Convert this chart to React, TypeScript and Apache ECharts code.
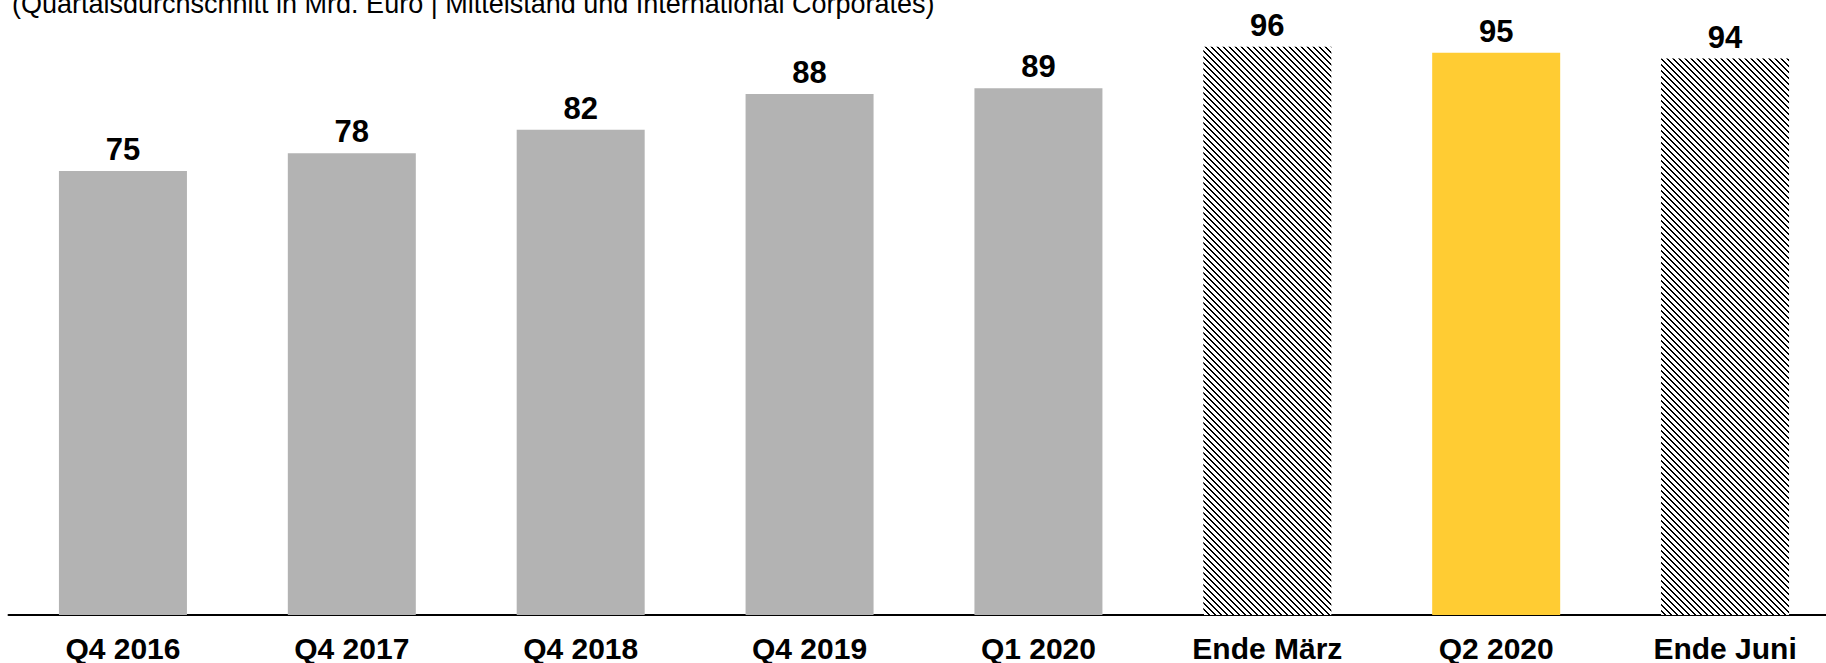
import React, { useEffect, useRef } from "react";
import * as echarts from "echarts";

const categories = ["Q4 2016", "Q4 2017", "Q4 2018", "Q4 2019", "Q1 2020", "Ende März", "Q2 2020", "Ende Juni"];
const values = [75, 78, 82, 88, 89, 96, 95, 94];
// fill kind per bar: g = grey, h = hatched, y = yellow
const kinds = ["g", "g", "g", "g", "g", "h", "y", "h"];
const subtitle = "(Quartalsdurchschnitt in Mrd. Euro | Mittelstand und International Corporates)";

function makeHatch(): HTMLCanvasElement {
  const c = document.createElement("canvas");
  const n = 6;
  c.width = n;
  c.height = n;
  const ctx = c.getContext("2d")!;
  ctx.fillStyle = "#ffffff";
  ctx.fillRect(0, 0, n, n);
  ctx.fillStyle = "#000000";
  for (let y = 0; y < n; y++) {
    ctx.fillRect(y % n, y, 1, 1);
    ctx.fillRect((y + 1) % n, y, 1, 1);
  }
  return c;
}

export default function App() {
  const ref = useRef<HTMLDivElement>(null);
  useEffect(() => {
    if (!ref.current) return;
    const chart = echarts.init(ref.current, undefined, { renderer: "svg" });
    const hatch = makeHatch();
    const font = '"Liberation Sans", Arial, sans-serif';
    const data = values.map((v, i) => ({
      value: v,
      itemStyle: {
        color:
          kinds[i] === "g"
            ? "#b3b3b3"
            : kinds[i] === "y"
            ? "#ffcc33"
            : ({ image: hatch, repeat: "repeat" } as any),
      },
    }));
    chart.setOption({
      animation: false,
      backgroundColor: "#ffffff",
      grid: {
        left: 8.5,
        width: 1831,
        top: 0,
        bottom: 48,
        containLabel: false,
        outerBoundsMode: "none",
      },
      xAxis: {
        type: "category",
        data: categories,
        axisLine: { show: true, lineStyle: { color: "#000000", width: 2 } },
        axisTick: { show: false },
        axisLabel: {
          color: "#000000",
          fontSize: 30,
          fontWeight: "bold",
          fontFamily: font,
          margin: 18,
          interval: 0,
        },
      },
      yAxis: {
        type: "value",
        min: 0,
        max: 103.9,
        show: false,
        splitLine: { show: false },
      },
      series: [
        {
          type: "bar",
          data,
          barWidth: 128,
          label: {
            show: true,
            position: "top",
            distance: 6,
            color: "#000000",
            fontSize: 31,
            fontWeight: "bold",
            fontFamily: font,
          },
        },
      ],
      graphic: [
        {
          type: "text",
          x: 12,
          y: 17.6,
          style: {
            text: subtitle,
            fill: "#000000",
            font: '27px "Liberation Sans", Arial, sans-serif',
            verticalAlign: "bottom",
            align: "left",
          },
        },
      ],
    });
    return () => chart.dispose();
  }, []);
  return (
    <div
      ref={ref}
      style={{ position: "fixed", left: 0, top: 0, width: 1826, height: 663, background: "#fff" }}
    />
  );
}
